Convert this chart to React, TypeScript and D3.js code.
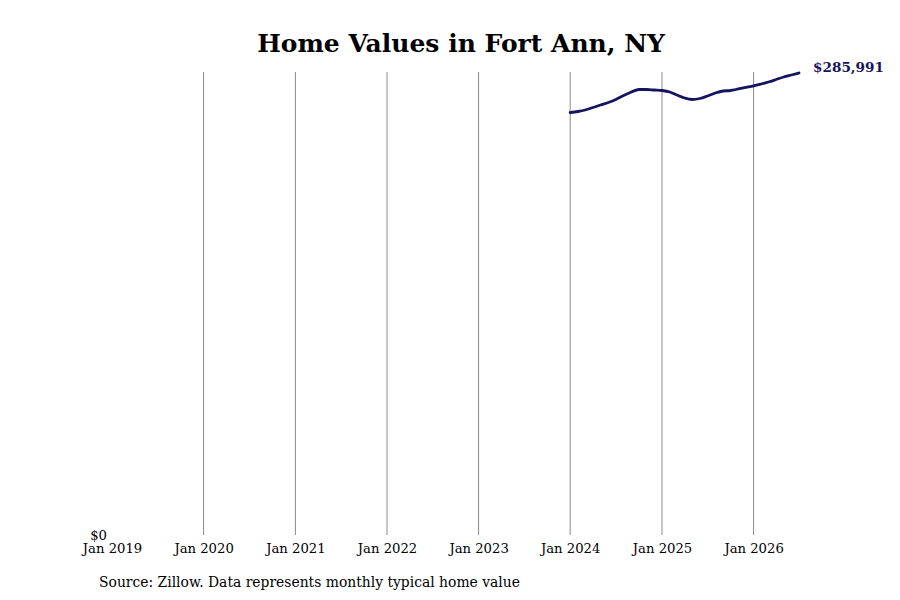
import React, { useEffect, useRef } from 'react';
import * as d3 from 'd3';

// Monthly typical home value, Jan 2024 .. Jul 2026
const months: string[] = [
  '2024-01', '2024-02', '2024-03', '2024-04', '2024-05', '2024-06',
  '2024-07', '2024-08', '2024-09', '2024-10', '2024-11', '2024-12',
  '2025-01', '2025-02', '2025-03', '2025-04', '2025-05', '2025-06',
  '2025-07', '2025-08', '2025-09', '2025-10', '2025-11', '2025-12',
  '2026-01', '2026-02', '2026-03', '2026-04', '2026-05', '2026-06',
  '2026-07',
];

const homeValues: number[] = [
  261540, 262160, 263090, 264630, 266180, 267730,
  269590, 272070, 274230, 275780, 275780, 275470,
  275160, 274230, 272380, 270530, 269590, 270210,
  271760, 273610, 274850, 275160, 276090, 277020,
  277950, 279190, 280420, 281970, 283520, 284760,
  285991,
];

const tickYears: number[] = [2019, 2020, 2021, 2022, 2023, 2024, 2025, 2026];

const WIDTH = 900;
const HEIGHT = 600;
const FONT = '"DejaVu Serif", serif';
const LINE_COLOR = '#16145e';

const App: React.FC = () => {
  const svgRef = useRef<SVGSVGElement>(null);

  useEffect(() => {
    if (!svgRef.current) return;
    const svg = d3.select(svgRef.current);
    svg.selectAll('*').remove();

    const parse = d3.timeParse('%Y-%m');
    const data = months.map((m, i) => ({ date: parse(m) as Date, value: homeValues[i] }));

    const x = d3.scaleTime()
      .domain([new Date(2019, 0, 1), new Date(2026, 6, 1)])
      .range([112, 799]);

    const y = d3.scaleLinear()
      .domain([0, d3.max(homeValues) as number])
      .range([535, 73]);

    svg.append('rect')
      .attr('width', WIDTH)
      .attr('height', HEIGHT)
      .attr('fill', '#fff');

    // Title
    svg.append('text')
      .attr('x', 461)
      .attr('y', 52)
      .attr('text-anchor', 'middle')
      .attr('font-family', FONT)
      .attr('font-weight', 'bold')
      .attr('font-size', 25)
      .attr('fill', '#000')
      .text('Home Values in Fort Ann, NY');

    // Vertical grid lines (none at the first year)
    const tickDates = tickYears.map(yr => new Date(yr, 0, 1));
    svg.append('g')
      .selectAll('line')
      .data(tickDates.slice(1))
      .enter()
      .append('line')
      .attr('x1', d => x(d))
      .attr('x2', d => x(d))
      .attr('y1', 72)
      .attr('y2', 535)
      .attr('stroke', '#8a8a8a')
      .attr('stroke-width', 1);

    // X axis labels
    const xAxis = svg.append('g')
      .attr('transform', 'translate(0,535)')
      .call(
        d3.axisBottom(x)
          .tickValues(tickDates)
          .tickSize(0)
          .tickPadding(9)
          .tickFormat(d => d3.timeFormat('Jan %Y')(d as Date))
      );
    xAxis.select('.domain').remove();
    xAxis.selectAll('.tick text')
      .attr('font-family', FONT)
      .attr('font-size', 13.2)
      .attr('fill', '#000');

    // Y axis: only the $0 tick
    const yAxis = svg.append('g')
      .attr('transform', 'translate(107,0)')
      .call(
        d3.axisLeft(y)
          .tickValues([0])
          .tickSize(0)
          .tickPadding(0)
          .tickFormat(d => d3.format('$,.0f')(d as number))
      );
    yAxis.select('.domain').remove();
    yAxis.selectAll('.tick text')
      .attr('font-family', FONT)
      .attr('font-size', 13.2)
      .attr('fill', '#000');

    // Line
    const line = d3.line<{ date: Date; value: number }>()
      .x(d => x(d.date))
      .y(d => y(d.value))
      .curve(d3.curveMonotoneX);

    svg.append('path')
      .datum(data)
      .attr('d', line)
      .attr('fill', 'none')
      .attr('stroke', LINE_COLOR)
      .attr('stroke-width', 2.8)
      .attr('stroke-linecap', 'round');

    // End label
    const last = data[data.length - 1];
    svg.append('text')
      .attr('x', x(last.date) + 14)
      .attr('y', y(last.value) - 1)
      .attr('font-family', FONT)
      .attr('font-weight', 'bold')
      .attr('font-size', 13.6)
      .attr('fill', LINE_COLOR)
      .text(d3.format('$,.0f')(last.value));

    // Source note
    svg.append('text')
      .attr('x', 99)
      .attr('y', 587)
      .attr('font-family', FONT)
      .attr('font-size', 13.9)
      .attr('fill', '#000')
      .text('Source: Zillow. Data represents monthly typical home value');
  }, []);

  return (
    <svg
      ref={svgRef}
      width={WIDTH}
      height={HEIGHT}
      style={{ position: 'absolute', left: 0, top: 0 }}
    />
  );
};

export default App;
